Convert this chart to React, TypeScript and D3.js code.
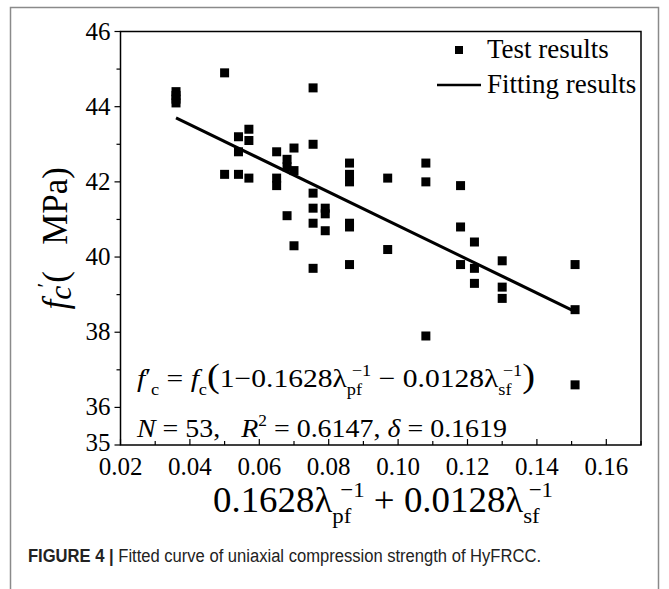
import React from 'react';
import * as d3 from 'd3';

// Test results: x = 0.1628/λpf + 0.0128/λsf, y = fc' (MPa)
const testX = [
  0.036, 0.036, 0.036, 0.036, 0.050, 0.0755, 0.057, 0.054, 0.057, 0.0755,
  0.054, 0.065, 0.070, 0.068, 0.068, 0.070, 0.050, 0.054, 0.057, 0.065,
  0.065, 0.086, 0.086, 0.086, 0.0755, 0.068, 0.0755, 0.079, 0.079, 0.0755,
  0.079, 0.086, 0.086, 0.097, 0.108, 0.108, 0.118, 0.070, 0.097, 0.118,
  0.122, 0.0755, 0.086, 0.118, 0.122, 0.130, 0.122, 0.130, 0.130, 0.108,
  0.151, 0.151, 0.151,
];
const testY = [
  44.4, 44.3, 44.2, 44.1, 44.9, 44.5, 43.4, 43.2, 43.1, 43.0,
  42.8, 42.8, 42.9, 42.6, 42.4, 42.3, 42.2, 42.2, 42.1, 42.1,
  41.9, 42.5, 42.2, 42.0, 41.7, 41.1, 41.3, 41.3, 41.15, 40.9,
  40.7, 40.9, 40.8, 42.1, 42.5, 42.0, 41.9, 40.3, 40.2, 40.8,
  40.4, 39.7, 39.8, 39.8, 39.7, 39.9, 39.3, 39.2, 38.9, 37.9,
  39.8, 38.6, 36.6,
];
// Fitting line end points
const fitX = [0.036, 0.151];
const fitY = [43.7, 38.55];

const xTicks = [0.02, 0.04, 0.06, 0.08, 0.1, 0.12, 0.14, 0.16];
const xTickLabels = ['0.02', '0.04', '0.06', '0.08', '0.10', '0.12', '0.14', '0.16'];
const xMinor = [0.03, 0.05, 0.07, 0.09, 0.11, 0.13, 0.15, 0.17];
const yTicks = [35, 36, 38, 40, 42, 44, 46];
const yMinor = [37, 39, 41, 43, 45];

const legendLabels = ['Test results', 'Fitting results'];
const caption = ['FIGURE 4 | ', 'Fitted curve of uniaxial compression strength of HyFRCC.'];

const SERIF = '"Liberation Serif", "Times New Roman", serif';

type Seg = { t: string; k?: 'n' | 'i' | 'sub' | 'sup' | 'isub' | 'big' | 'prime'; dx?: number };

function MathText(props: {
  x: number; y: number; size: number; segs: Seg[]; anchor?: string; textLength?: number; transform?: string;
}) {
  const { x, y, size, segs, anchor, textLength, transform } = props;
  let cur = 0;
  const spans = segs.map((s, i) => {
    let target = 0;
    if (s.k === 'sub') target = 0.3 * size;
    else if (s.k === 'sup') target = -0.42 * size;
    else if (s.k === 'prime') target = -0.1 * size;
    else if (s.k === 'isub') target = 0.12 * size;
    const dy = target - cur;
    cur = target;
    let fs = size;
    if (s.k === 'sub' || s.k === 'sup') fs = size * 0.62;
    if (s.k === 'prime') fs = size * 0.9;
    if (s.k === 'isub') fs = size * 0.9;
    if (s.k === 'big') fs = size * 1.3;
    return (
      <tspan
        key={i}
        dy={dy}
        dx={s.dx ? s.dx * size : undefined}
        fontSize={fs}
        fontStyle={s.k === 'i' || s.k === 'isub' ? 'italic' : 'normal'}
      >
        {s.t}
      </tspan>
    );
  });
  return (
    <text
      x={x}
      y={y}
      fontFamily={SERIF}
      fontSize={size}
      textAnchor={anchor || 'start'}
      style={{ whiteSpace: 'pre' }}
      textLength={textLength}
      lengthAdjust={textLength ? 'spacingAndGlyphs' : undefined}
      transform={transform}
      fill="#000"
    >
      {spans}
    </text>
  );
}

export default function App() {
  const W = 669, H = 589;
  const x = d3.scaleLinear().domain([0.02, 0.17]).range([120.5, 641]);
  const y = d3.scaleLinear().domain([35, 46]).range([445, 31.5]);
  const [x0, x1] = x.range();
  const [yb, yt] = y.range();

  const fitLine = d3.line<number>()
    .x((d, i) => x(fitX[i]))
    .y((d, i) => y(fitY[i]))(fitX);

  const sq = 9;

  const formula1: Seg[] = [
    { t: 'f', k: 'i' }, { t: '′', k: 'prime' }, { t: 'c', k: 'sub' },
    { t: ' = ' }, { t: 'f', k: 'i' }, { t: 'c', k: 'sub' }, { t: '(', k: 'big' },
    { t: '1−0.1628λ' }, { t: 'pf', k: 'sub' }, { t: '−1', k: 'sup', dx: -0.35 },
    { t: ' − 0.0128λ' }, { t: 'sf', k: 'sub' }, { t: '−1', k: 'sup', dx: -0.3 },
    { t: ')', k: 'big' },
  ];
  const formula2: Seg[] = [
    { t: 'N', k: 'i' }, { t: ' = 53,   ' }, { t: 'R', k: 'i' }, { t: '2', k: 'sup' },
    { t: ' = 0.6147, ' }, { t: 'δ', k: 'i' }, { t: ' = 0.1619' },
  ];
  const xLabel: Seg[] = [
    { t: '0.1628λ' }, { t: 'pf', k: 'sub' }, { t: '−1', k: 'sup', dx: -0.3 },
    { t: ' + 0.0128λ' }, { t: 'sf', k: 'sub' }, { t: '−1', k: 'sup', dx: -0.3 },
  ];
  const yLabel: Seg[] = [
    { t: 'f', k: 'i' }, { t: 'c', k: 'isub' }, { t: '′', k: 'sup', dx: -0.05 }, { t: '(   MPa)' },
  ];

  return (
    <svg width={W} height={H} style={{ position: 'absolute', left: 0, top: 0, background: '#fff' }}>
      <rect x={0} y={0} width={W} height={H} fill="#fff" />
      {/* outer figure frame */}
      <rect x={10.5} y={7.5} width={648} height={H + 20} fill="none" stroke="#8a8a8a" strokeWidth={1.5} />

      {/* plot frame */}
      <rect x={x0} y={yt} width={x1 - x0} height={yb - yt} fill="none" stroke="#000" strokeWidth={1.5} />

      {/* y ticks */}
      {yTicks.map((v) => (
        <g key={'yt' + v}>
          <line x1={x0 - 6} x2={x0} y1={y(v)} y2={y(v)} stroke="#000" strokeWidth={1.2} />
          <text x={x0 - 10} y={y(v) + (v === 35 ? 6 : 8)} textAnchor="end" fontFamily={SERIF} fontSize={25}>{v}</text>
        </g>
      ))}
      {yMinor.map((v) => (
        <line key={'ym' + v} x1={x0 - 4} x2={x0} y1={y(v)} y2={y(v)} stroke="#000" strokeWidth={1.2} />
      ))}

      {/* x ticks */}
      {xTicks.map((v, i) => (
        <g key={'xt' + v}>
          <line x1={x(v)} x2={x(v)} y1={yb} y2={yb - 6} stroke="#000" strokeWidth={1.2} />
          <text x={x(v)} y={yb + 30} textAnchor="middle" fontFamily={SERIF} fontSize={25}>{xTickLabels[i]}</text>
        </g>
      ))}
      {xMinor.map((v) => (
        <line key={'xm' + v} x1={x(v)} x2={x(v)} y1={yb} y2={yb - 4} stroke="#000" strokeWidth={1.2} />
      ))}

      {/* fitting line */}
      <path d={fitLine || ''} fill="none" stroke="#000" strokeWidth={3} />

      {/* test points */}
      {testX.map((v, i) => (
        <rect key={'p' + i} x={x(v) - sq / 2} y={y(testY[i]) - sq / 2} width={sq} height={sq} fill="#000" />
      ))}

      {/* legend */}
      <rect x={455} y={46} width={8} height={8} fill="#000" />
      <text x={487} y={58} fontFamily={SERIF} fontSize={27}>{legendLabels[0]}</text>
      <line x1={437} x2={481} y1={85} y2={85} stroke="#000" strokeWidth={2.5} />
      <text x={487} y={93} fontFamily={SERIF} fontSize={27}>{legendLabels[1]}</text>

      {/* formulas inside plot */}
      <MathText x={137} y={387} size={26} segs={formula1} textLength={398} />
      <MathText x={137} y={437} size={26} segs={formula2} textLength={370} />

      {/* axis titles */}
      <MathText x={383} y={512} size={35} segs={xLabel} anchor="middle" textLength={340} />
      <MathText x={0} y={0} size={35} segs={yLabel} anchor="middle" transform={`translate(67, ${(yt + yb) / 2}) rotate(-90)`} />

      {/* caption */}
      <text x={28} y={562} fontFamily='"Liberation Sans", Arial, sans-serif' fontSize={18} fill="#222"
        textLength={513} lengthAdjust="spacingAndGlyphs" style={{ whiteSpace: 'pre' }}>
        <tspan fontWeight="bold">{caption[0]}</tspan>
        <tspan>{caption[1]}</tspan>
      </text>
    </svg>
  );
}
